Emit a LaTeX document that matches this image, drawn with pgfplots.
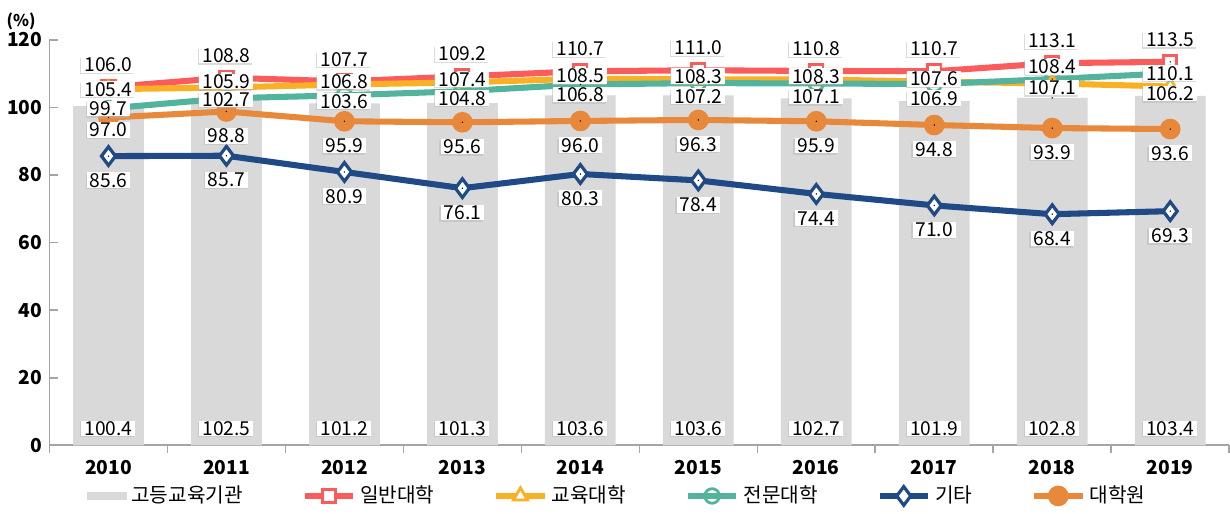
\documentclass[border=0pt]{standalone}
\usepackage{pgfplots}
\pgfplotsset{compat=1.18}
\usepackage{pgfplotstable}
\usepackage{fontspec}
\setmainfont{Noto Sans CJK KR}
\usetikzlibrary{shadows}

\definecolor{barg}{RGB}{217,217,217}
\definecolor{cred}{RGB}{250,92,92}
\definecolor{cyel}{RGB}{250,176,36}
\definecolor{cteal}{RGB}{82,180,156}
\definecolor{cblue}{RGB}{31,74,134}
\definecolor{corg}{RGB}{232,136,58}
\definecolor{axg}{RGB}{165,165,165}

\tikzset{lbl/.style={font=\fontsize{9.5}{10}\selectfont, fill=white,
    inner xsep=1.5pt, inner ysep=0.5pt, text height=6.8pt, text depth=0pt,
    drop shadow={shadow xshift=-0.6pt, shadow yshift=-0.6pt, fill=black!28}}}

% dy columns: label offsets (pt)
\pgfplotstableread{
x bar ilban gyoyuk jeonmun gita grad dyG dyT dyD
0 100.4 106.0 105.4 99.7  85.6 97.0 0    0    -6
1 102.5 108.8 105.9 102.7 85.7 98.8 3    -0.5 -12
2 101.2 107.7 106.8 103.6 80.9 95.9 1.5  -3   -12
3 101.3 109.2 107.4 104.8 76.1 95.6 1.5  -3.5 -12
4 103.6 110.7 108.5 106.8 80.3 96.0 1.5  -5   -12
5 103.6 111.0 108.3 107.2 78.4 96.3 1.5  -6.5 -12
6 102.7 110.8 108.3 107.1 74.4 95.9 1.5  -6.5 -12
7 101.9 110.7 107.6 106.9 71.0 94.8 1.5  -7   -12
8 102.8 113.1 107.1 108.4 68.4 93.9 -2   6    -12
9 103.4 113.5 106.2 110.1 69.3 93.6 -3.5 0    -12
}\data

\begin{document}
\begin{tikzpicture}
\begin{axis}[
  x=58.35pt, y=1.671pt,
  xmin=-0.5, xmax=9.5, ymin=0, ymax=120,
  axis x line*=bottom, axis y line*=left,
  axis line style={draw=axg, line width=0.8pt},
  xtick={-0.5,0.5,...,9.5},
  x tick label as interval,
  xticklabels={2010,2011,2012,2013,2014,2015,2016,2017,2018,2019},
  xtick style={draw=axg, line width=0.8pt, yshift=-4pt},
  ytick={0,20,...,120},
  ytick style={draw=axg, line width=0.8pt},
  major tick length=4pt,
  tick align=inside,
  /pgf/number format/assume math mode=true,
  tick label style={font=\bfseries\fontsize{9.5}{11}\selectfont},
  xticklabel style={yshift=-4pt},
  legend columns=6,
  legend style={at={(0.482,-0.125)}, anchor=center, draw=none,
    font=\fontsize{10}{12}\selectfont,
    /tikz/every even column/.append style={column sep=27pt}},
  legend image code/.code={\draw[mark repeat=2,mark phase=2,#1]
    plot coordinates {(0pt,0pt) (12pt,0pt) (24pt,0pt)};},
  labplot/.style={draw=none, forget plot, mark=*, mark size=0.1pt,
    mark options={draw=none, fill=none},
    point meta=explicit symbolic, nodes near coords={\pgfplotspointmeta}},
]
\addplot[ybar, bar width=35pt, fill=barg, draw=none,
  legend image code/.code={\fill[barg] (0pt,-2pt) rectangle (20pt,2pt);}]
  table[x=x, y=bar] {\data};
\addlegendentry{고등교육기관}
\addplot[cred, line width=3pt, mark=square*, mark size=3.3pt,
  mark options={fill=white, line width=1.4pt}]
  table[x=x, y=ilban] {\data};
\addlegendentry{일반대학}
\addplot[cyel, line width=3pt, mark=triangle*, mark size=4pt,
  mark options={fill=white, line width=1.4pt}]
  table[x=x, y=gyoyuk] {\data};
\addlegendentry{교육대학}
\addplot[cteal, line width=3pt, mark=o, mark size=3.6pt,
  mark options={fill=white, line width=1.4pt}]
  table[x=x, y=jeonmun] {\data};
\addlegendentry{전문대학}
\addplot[cblue, line width=3pt, mark=diamond*, mark size=4.6pt,
  mark options={fill=white, line width=1.6pt}]
  table[x=x, y=gita] {\data};
\addlegendentry{기타}
\addplot[corg, line width=3pt, mark=*, mark size=3.6pt]
  table[x=x, y=grad] {\data};
\addlegendentry{대학원}

% data labels
\addplot[labplot, visualization depends on={\thisrow{bar} \as \bv},
  every node near coord/.append style={lbl, anchor=center, yshift={(5-\bv)*1.671pt}}]
  table[x=x, y=bar, meta=bar] {\data};
\addplot[labplot, every node near coord/.append style={lbl, anchor=center, yshift=11pt}]
  table[x=x, y=ilban, meta=ilban] {\data};
\addplot[labplot, visualization depends on={\thisrow{dyG} \as \dy},
  every node near coord/.append style={lbl, anchor=center, yshift=\dy pt}]
  table[x=x, y=gyoyuk, meta=gyoyuk] {\data};
\addplot[labplot, visualization depends on={\thisrow{dyT} \as \dy},
  every node near coord/.append style={lbl, anchor=center, yshift=\dy pt}]
  table[x=x, y=jeonmun, meta=jeonmun] {\data};
\addplot[labplot, every node near coord/.append style={lbl, anchor=center, yshift=-12pt}]
  table[x=x, y=gita, meta=gita] {\data};
\addplot[labplot, visualization depends on={\thisrow{dyD} \as \dy},
  every node near coord/.append style={lbl, anchor=center, yshift=\dy pt}]
  table[x=x, y=grad, meta=grad] {\data};

\coordinate (tl) at (rel axis cs:0,1);
\end{axis}
\node[anchor=center, font=\bfseries\fontsize{8}{9}\selectfont]
  (pct) at ([xshift=-14pt, yshift=9pt]tl) {(\%)};
\path ([yshift=3pt]pct.north) coordinate (top);
\end{tikzpicture}
\end{document}
